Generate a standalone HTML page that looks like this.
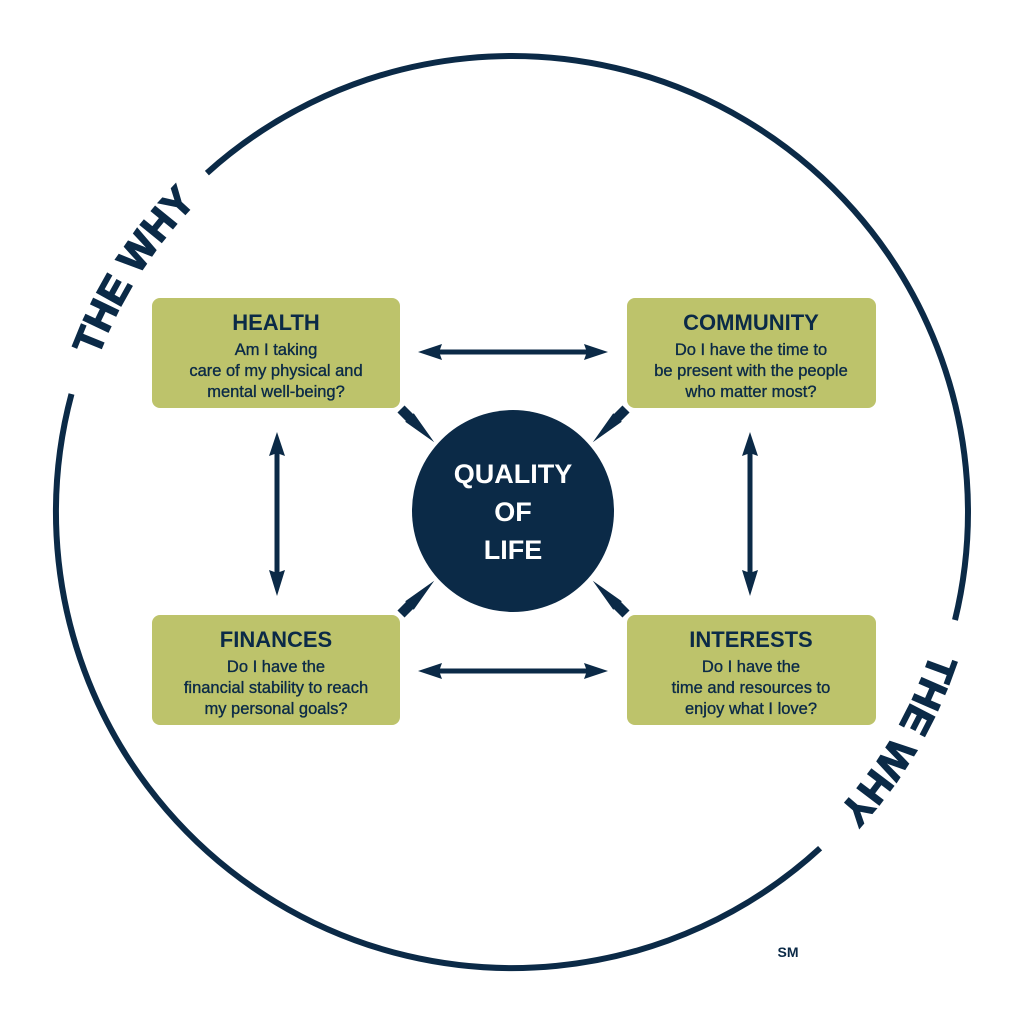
<!DOCTYPE html>
<html><head><style>
body{margin:0;background:#fff}
svg{display:block}
.t{font-family:"Liberation Sans",sans-serif;font-weight:bold;fill:#0b2a47}
.b{font-family:"Liberation Sans",sans-serif;font-weight:normal;fill:#0b2a47;stroke:#0b2a47;stroke-width:0.35}
.w{font-family:"Liberation Sans",sans-serif;font-weight:bold;fill:#0b2a47;stroke:#0b2a47;stroke-width:1.6}
</style></head><body>
<svg width="1024" height="1024" viewBox="0 0 1024 1024">
<defs>
<path id="pl" d="M76.7,435.3 A442,442 0 0 1 258.5,149.9" fill="none"/>
<path id="pr" d="M949.7,573.5 A442,442 0 0 1 778,865" fill="none"/>
<polygon id="sa" points="0,-5 12,-5 12,-6 47,0 12,6 12,5 0,5"/>
</defs>
<g fill="none" stroke="#0b2a47" stroke-width="6">
<path d="M820.1,848.2 A456,456 0 0 1 71.5,394"/>
<path d="M206.9,173.1 A456,456 0 0 1 955,620"/>
</g>
<text class="w" font-size="40" font-weight="bold"><textPath href="#pl" startOffset="50%" text-anchor="middle">THE WHY</textPath></text>
<text class="w" font-size="40" font-weight="bold"><textPath href="#pr" startOffset="50%" text-anchor="middle">THE WHY</textPath></text>

<g fill="#bdc36b">
<rect x="152" y="298" width="248" height="110" rx="8"/>
<rect x="627" y="298" width="249" height="110" rx="8"/>
<rect x="152" y="615" width="248" height="110" rx="8"/>
<rect x="627" y="615" width="249" height="110" rx="8"/>
</g>
<circle cx="513" cy="511" r="101" fill="#0b2a47"/>

<g class="t" text-anchor="middle" font-size="22">
<text x="276" y="330">HEALTH</text>
<text x="751" y="330">COMMUNITY</text>
<text x="276" y="647">FINANCES</text>
<text x="751" y="647">INTERESTS</text>
<text x="513" y="483" font-size="27" style="fill:#fff">QUALITY</text>
<text x="513" y="521" font-size="27" style="fill:#fff">OF</text>
<text x="513" y="559" font-size="27" style="fill:#fff">LIFE</text>
<text x="788" y="957" font-size="14">SM</text>
</g>
<g class="b" text-anchor="middle" font-size="16.5">
<text x="276" y="355">Am I taking</text>
<text x="276" y="376">care of my physical and</text>
<text x="276" y="397">mental well-being?</text>
<text x="751" y="355">Do I have the time to</text>
<text x="751" y="376">be present with the people</text>
<text x="751" y="397">who matter most?</text>
<text x="276" y="672">Do I have the</text>
<text x="276" y="693">financial stability to reach</text>
<text x="276" y="714">my personal goals?</text>
<text x="751" y="672">Do I have the</text>
<text x="751" y="693">time and resources to</text>
<text x="751" y="714">enjoy what I love?</text>
</g>

<g fill="#0b2a47">
<g transform="translate(418,352)"><polygon points="0,0 24,-8 22,-2.5 168,-2.5 166,-8 190,0 166,8 168,2.5 22,2.5 24,8"/></g>
<g transform="translate(418,671)"><polygon points="0,0 24,-8 22,-2.5 168,-2.5 166,-8 190,0 166,8 168,2.5 22,2.5 24,8"/></g>
<g transform="translate(277,432) rotate(90)"><polygon points="0,0 24,-8 22,-2.5 140,-2.5 138,-8 164,0 138,8 140,2.5 22,2.5 24,8"/></g>
<g transform="translate(750,432) rotate(90)"><polygon points="0,0 24,-8 22,-2.5 140,-2.5 138,-8 164,0 138,8 140,2.5 22,2.5 24,8"/></g>
<use href="#sa" transform="translate(401,409) rotate(45)"/>
<use href="#sa" transform="translate(626,409) rotate(135)"/>
<use href="#sa" transform="translate(401,614) rotate(-45)"/>
<use href="#sa" transform="translate(626,614) rotate(-135)"/>
</g>
</svg>
</body></html>
